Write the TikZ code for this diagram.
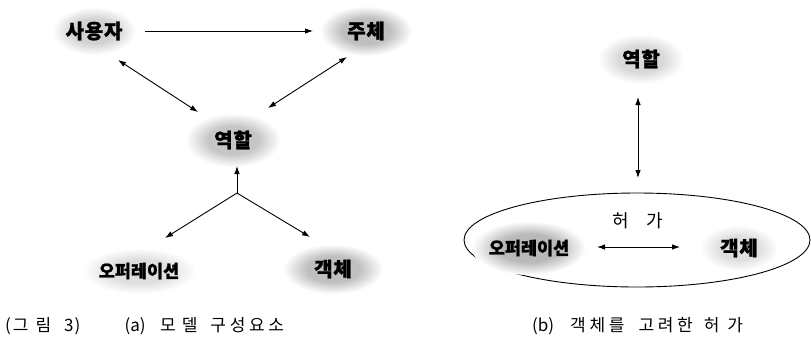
\documentclass[tikz,border=0pt]{standalone}
\usepackage{fontspec}
\newfontfamily\kr{Noto Sans CJK KR}
\usetikzlibrary{arrows.meta,calc,shapes.geometric}
\makeatletter
\pgfdeclareradialshading[tikz@radial@inner,tikz@radial@outer]{blobshade}{\pgfpointorigin}{color(0bp)=(tikz@radial@inner);color(13bp)=(tikz@radial@inner);color(25bp)=(tikz@radial@outer);color(50bp)=(tikz@radial@outer)}
\makeatother
\newcommand{\gp}{\hspace{3.7pt}}
\tikzset{
  blob/.style n args={3}{ellipse, minimum width=#2, minimum height=#3, inner sep=0pt,
    inner color=#1, outer color=white, shading=blobshade},
  kbold/.style={font=\kr\bfseries\fontsize{20}{22}\selectfont\addfontfeature{LetterSpace=4,FakeBold=1.2}},
  kboldsm/.style={font=\kr\bfseries\fontsize{17.5}{19}\selectfont\addfontfeature{FakeBold=1.2}},
  kreg/.style={font=\kr\fontsize{18}{20}\selectfont},
  captxt/.style={font=\kr\fontsize{17}{19}\selectfont, inner sep=0pt},
  arr/.style={-{Latex[length=8pt,width=5.5pt]}, line width=0.9pt},
  darr/.style={{Latex[length=8pt,width=5.5pt]}-{Latex[length=8pt,width=5.5pt]}, line width=0.9pt}
}
\begin{document}
\begin{tikzpicture}[x=1pt,y=-1pt]
\useasboundingbox (0,0) rectangle (811,341);
% (a)
\node[blob={gray!35}{84pt}{48pt}, kbold] (user) at (94,31) {사용자};
\node[blob={gray!50}{92pt}{50pt}, kbold] (subj) at (366,31) {주체};
\node[blob={gray!45}{95pt}{54pt}, kbold] (roleA) at (233,140) {역할};
\node[blob={gray!25}{98pt}{46pt}, kboldsm] (opA) at (139,271) {오퍼레이션};
\node[blob={gray!50}{100pt}{50pt}, kbold] (objA) at (333,269) {객체};
\coordinate (j) at (237,193);
\draw[arr] ($(user)+(51,0)$) -- ($(subj)+(-53,0)$);
\draw[darr] ($(user)+(24,29)$) -- ($(roleA)+(-35,-28)$);
\draw[darr] ($(subj)+(-19,26)$) -- ($(roleA)+(35,-32)$);
\draw[arr] (j) -- ($(roleA)+(4,26)$);
\draw[arr] (j) -- ($(opA)+(26,-33)$);
\draw[arr] (j) -- ($(objA)+(-23,-32)$);
% (b)
\node[blob={gray!30}{86pt}{50pt}, kbold] (roleB) at (641,59) {역할};
\node[draw, ellipse, minimum width=346pt, minimum height=94pt, line width=0.9pt] (perm) at (637,240) {};
\node[kreg] (permlbl) at (638,221) {허\hspace{17pt}가};
\node[blob={gray!55}{100pt}{54pt}, kboldsm] (opB) at (529,248) {오퍼레이션};
\node[blob={gray!25}{78pt}{46pt}, kbold] (objB) at (739,248) {객체};
\draw[darr] ($(roleB)+(-3,38)$) -- ($(perm)+(1,-62)$);
\draw[darr] ($(opB)+(68,-1)$) -- ($(objB)+(-59,-1)$);
% captions
\node[captxt, anchor=west] (capfig) at (5,326) {(\hspace{2pt}그\hspace{7pt}림\hspace{13pt}3\hspace{1pt})};
\node[captxt, anchor=west] (capa) at (120,326) {\makebox[30pt][c]{(a)}\hspace{10pt}모\hspace{6pt}델\hspace{13pt}구\gp 성\gp 요\gp 소};
\node[captxt, anchor=west] (capb) at (528,326) {\makebox[30pt][c]{(b)}\hspace{12pt}객\gp 체\gp 를\hspace{14pt}고\gp 려\gp 한\hspace{11pt}허\hspace{8pt}가};
\end{tikzpicture}
\end{document}
